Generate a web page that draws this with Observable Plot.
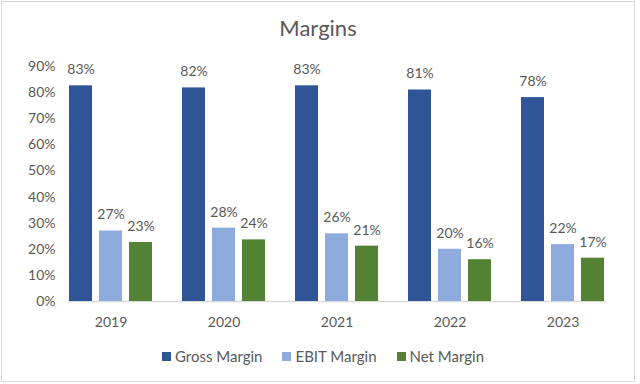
<!DOCTYPE html>
<html>
<head>
<meta charset="utf-8">
<script src="https://cdn.jsdelivr.net/npm/d3@7"></script>
<script src="https://cdn.jsdelivr.net/npm/@observablehq/plot@0.6"></script>
<style>
  html, body { margin: 0; padding: 0; background: #fff; }
  #chart { position: relative; width: 640px; height: 384px; overflow: hidden; font-family: Lato, "Open Sans", sans-serif; color: #595959; }
  #frame { position: absolute; left: 1px; top: 1px; width: 632px; height: 379px; border: 1px solid #d9d9d9; }
  #title { position: absolute; left: 0; width: 636px; top: 14px; text-align: center; font-size: 22px; line-height: 28px; }
  #plot { position: absolute; left: 0; top: 50px; }
  #legend { position: absolute; left: 0; width: 646px; top: 347px; display: flex; justify-content: center; font-size: 15px; line-height: 19px; }
  .item { display: flex; align-items: center; margin: 0 10px; }
  .sw { width: 9px; height: 9px; margin-right: 4px; }
</style>
</head>
<body>
<div id="chart">
  <div id="frame"></div>
  <div id="title">Margins</div>
  <div id="plot"></div>
  <div id="legend"></div>
</div>
<script>
const years = ["2019", "2020", "2021", "2022", "2023"];
const seriesNames = ["Gross Margin", "EBIT Margin", "Net Margin"];
const grossMargin = [0.826, 0.818, 0.826, 0.810, 0.781];
const ebitMargin = [0.270, 0.281, 0.259, 0.200, 0.218];
const netMargin = [0.226, 0.236, 0.212, 0.160, 0.166];
const seriesColors = ["#2F5597", "#8FAADC", "#548235"];
const yTicks = [0, 0.1, 0.2, 0.3, 0.4, 0.5, 0.6, 0.7, 0.8, 0.9];

const seriesValues = [grossMargin, ebitMargin, netMargin];
const data = [];
years.forEach((year, i) => {
  seriesNames.forEach((s, j) => {
    data.push({year, series: s, value: seriesValues[j][i]});
  });
});

const pct = d3.format(".0%");

const chart = Plot.plot({
  width: 640,
  height: 290,
  marginLeft: 52,
  marginRight: 18,
  marginTop: 16,
  marginBottom: 39,
  style: {fontFamily: 'Lato, "Open Sans", sans-serif', fontSize: "14px", color: "#595959", background: "transparent"},
  fx: {domain: years, paddingInner: 0.245, paddingOuter: 0.123, axis: "bottom", tickSize: 0, tickPadding: 16, label: null},
  x: {domain: seriesNames, axis: null, paddingInner: 0.226, paddingOuter: 0},
  y: {domain: [0, 0.9], ticks: yTicks, tickFormat: pct, tickSize: 0, tickPadding: 13, label: null},
  color: {domain: seriesNames, range: seriesColors},
  marks: [
    Plot.frame({anchor: "bottom", stroke: "#d9d9d9", strokeWidth: 1.5, facet: "super"}),
    Plot.barY(data, {fx: "year", x: "series", y: "value", fill: "series"}),
    Plot.text(data, {fx: "year", x: "series", y: "value", text: d => pct(d.value), dy: -16, fill: "#595959", fontSize: 14})
  ]
});
document.getElementById("plot").appendChild(chart);

const legend = document.getElementById("legend");
seriesNames.forEach((s, i) => {
  const item = document.createElement("div");
  item.className = "item";
  const sw = document.createElement("span");
  sw.className = "sw";
  sw.style.background = seriesColors[i];
  const label = document.createElement("span");
  label.textContent = s;
  item.appendChild(sw);
  item.appendChild(label);
  legend.appendChild(item);
});
</script>
</body>
</html>
